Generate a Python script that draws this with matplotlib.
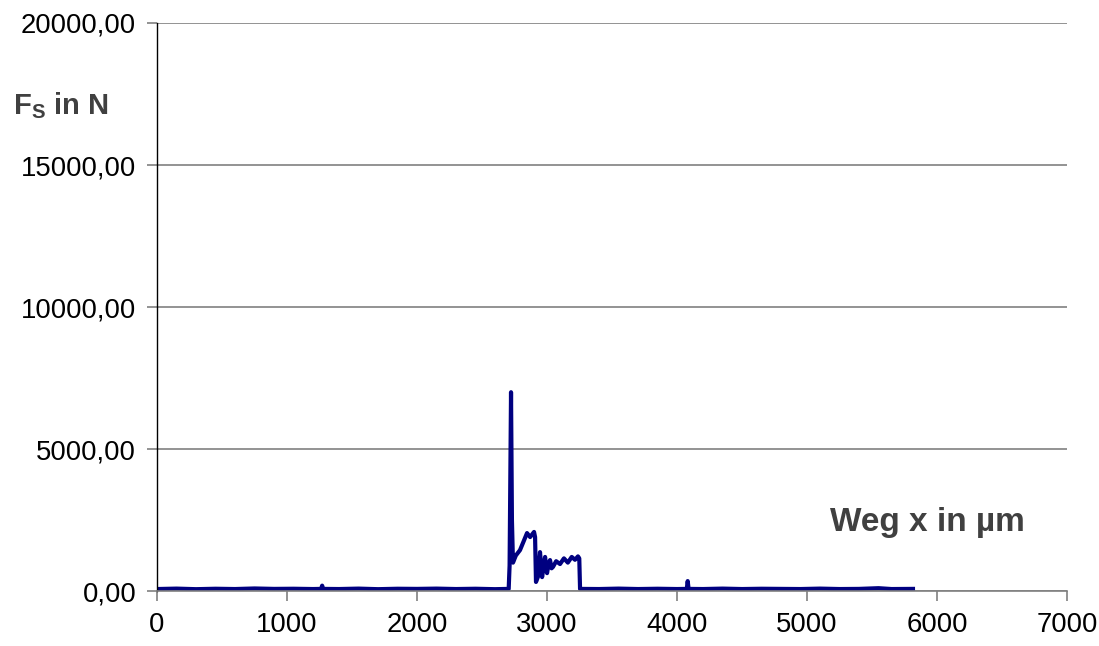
import matplotlib.pyplot as plt
from matplotlib.ticker import FuncFormatter

plt.rcParams.update({
    "font.family": ["Liberation Sans", "DejaVu Sans"],
    "font.size": 19.8,
})

# baseline before the cut (x in µm, F in N)
base_x = [0, 150, 300, 450, 600, 750, 900, 1050, 1200, 1262, 1270, 1278, 1400, 1550, 1700,
          1850, 2000, 2150, 2300, 2450, 2600, 2705]
base_f = [70, 85, 65, 80, 70, 90, 75, 80, 70, 75, 190, 75, 70, 85, 65, 80, 75, 85, 70, 80, 65, 75]

# cutting event
cut_x = [2712, 2723, 2730, 2738, 2760, 2792, 2820, 2846, 2870, 2900, 2908, 2915, 2930,
         2946, 2962, 2975, 2985, 3000, 3012, 3023, 3035, 3046, 3070, 3100, 3130,
         3160, 3190, 3215, 3238, 3248]
cut_f = [900, 7000, 2500, 1000, 1250, 1440, 1750, 2040, 1900, 2080, 1900, 320, 500,
         1370, 490, 900, 1200, 630, 950, 1090, 800, 850, 1050, 950, 1150,
         1000, 1200, 1100, 1220, 1150]

# baseline after the cut
tail_x = [3254, 3400, 3550, 3700, 3850, 4000, 4075, 4082, 4089, 4200, 4350, 4500, 4650,
          4800, 4950, 5100, 5250, 5400, 5550, 5650, 5815]
tail_f = [75, 70, 85, 70, 80, 70, 75, 350, 75, 70, 85, 70, 80, 75, 70, 85, 70, 75, 100, 70, 75]

x = base_x + cut_x + tail_x
f = base_f + cut_f + tail_f

fig = plt.figure(figsize=(10.99, 6.46), dpi=100)
ax = fig.add_axes([0.1429, 0.0851, 0.8280, 0.8793])

ax.plot(x, f, color="#000080", linewidth=3.0, solid_joinstyle="round")

ax.set_xlim(0, 7000)
ax.set_ylim(0, 20000)
ax.set_xticks(range(0, 7001, 1000))
ax.set_yticks(range(0, 20001, 5000))
ax.yaxis.set_major_formatter(FuncFormatter(lambda v, p: f"{v:.2f}".replace(".", ",")))

ax.grid(axis="y", color="#808080", linewidth=1.2)
ax.set_axisbelow(True)
ax.spines["top"].set_visible(False)
ax.spines["right"].set_visible(False)
ax.spines["left"].set_color("black")
ax.spines["left"].set_linewidth(1.0)
ax.spines["bottom"].set_color("#808080")
ax.spines["bottom"].set_linewidth(1.2)
ax.tick_params(axis="both", direction="out", length=7, width=1.2, color="#808080",
               labelcolor="black", pad=8)

fig.text(0.012, 0.837, r"F$_\mathregular{S}$ in N", fontweight="bold", color="#404040",
         fontsize=21, va="center", ha="left")
fig.text(0.755, 0.191, "Weg x in µm", fontweight="bold", color="#404040",
         fontsize=24, va="center", ha="left")

fig.savefig("out.png", dpi=100)
